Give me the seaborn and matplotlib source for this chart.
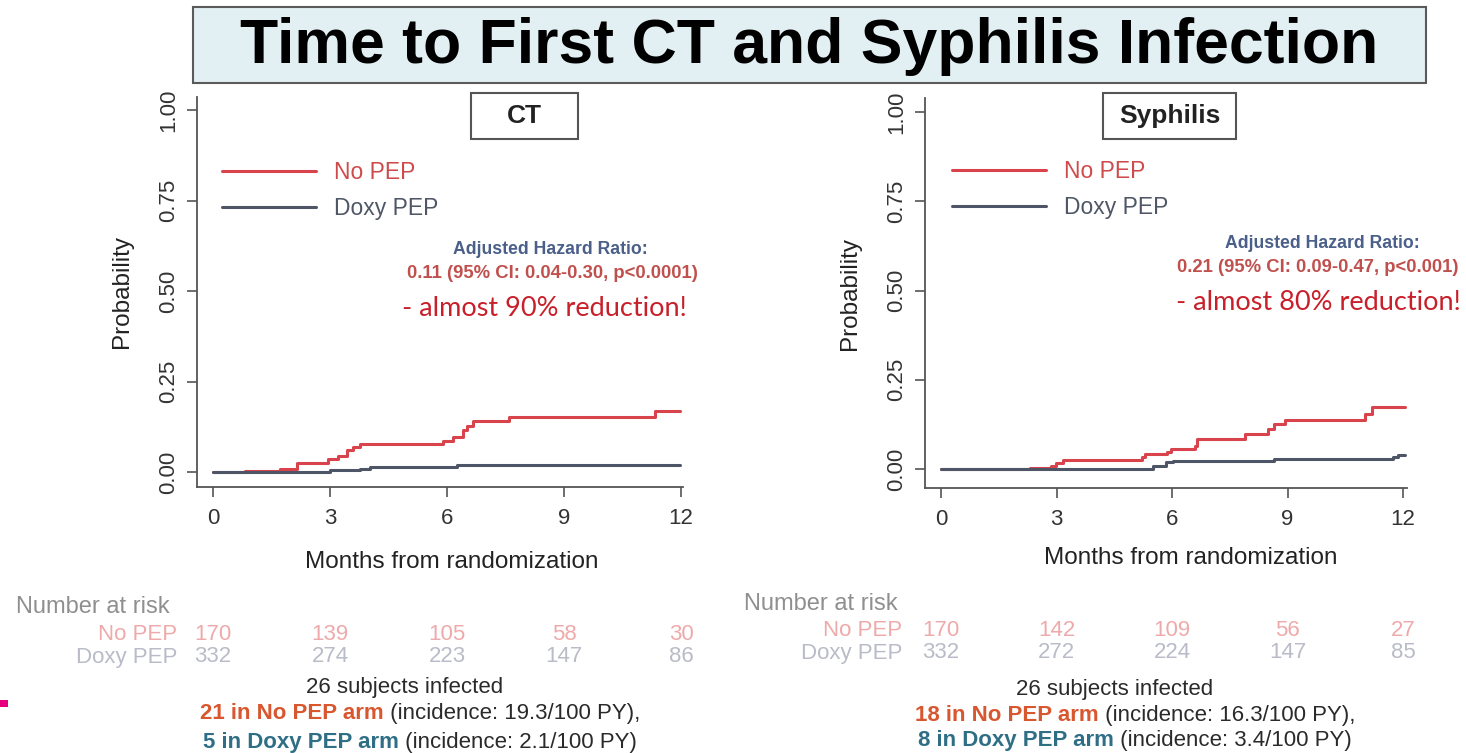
import matplotlib
matplotlib.use('Agg')
import matplotlib.pyplot as plt
from matplotlib.patches import Rectangle
from matplotlib import transforms
import seaborn as sns
import pandas as pd

W, H = 1466, 753

groups = ['No PEP', 'Doxy PEP']
month_ticks = [0, 3, 6, 9, 12]
prob_ticks = [0.0, 0.25, 0.50, 0.75, 1.00]

# cumulative incidence step curves
ct_nopep_t = [0, 0.82, 1.72, 2.15, 2.95, 3.2, 3.43, 3.6, 3.77, 5.9, 6.15, 6.4, 6.5, 6.67, 7.6, 11.33, 11.97]
ct_nopep_p = [0, 0.004, 0.009, 0.026, 0.035, 0.044, 0.061, 0.07, 0.078, 0.087, 0.096, 0.117, 0.126, 0.14, 0.151, 0.168, 0.168]
ct_doxy_t = [0, 3.0, 3.77, 4.03, 6.25, 11.97]
ct_doxy_p = [0, 0.006, 0.009, 0.015, 0.019, 0.019]

syph_nopep_t = [0, 2.3, 2.86, 2.98, 3.16, 5.23, 5.3, 5.87, 5.96, 6.6, 6.65, 7.9, 8.5, 8.65, 8.92, 11.0, 11.2, 12.05]
syph_nopep_p = [0, 0.003, 0.009, 0.016, 0.025, 0.035, 0.042, 0.049, 0.056, 0.065, 0.085, 0.098, 0.112, 0.126, 0.137, 0.154, 0.175, 0.175]
syph_doxy_t = [0, 5.5, 5.85, 6.03, 8.65, 11.73, 11.86, 12.05]
syph_doxy_p = [0, 0.009, 0.019, 0.023, 0.028, 0.033, 0.040, 0.040]

# number at risk
ct_risk_nopep = [170, 139, 105, 58, 30]
ct_risk_doxy = [332, 274, 223, 147, 86]
syph_risk_nopep = [170, 142, 109, 56, 27]
syph_risk_doxy = [332, 272, 224, 147, 85]

ct_hr = '0.11 (95% CI: 0.04-0.30, p<0.0001)'
syph_hr = '0.21 (95% CI: 0.09-0.47, p<0.001)'
ct_reduction = '- almost 90% reduction!'
syph_reduction = '- almost 80% reduction!'
ct_infected = ('21 in No PEP arm', ' (incidence: 19.3/100 PY),', '5 in Doxy PEP arm', ' (incidence: 2.1/100 PY)')
syph_infected = ('18 in No PEP arm', ' (incidence: 16.3/100 PY),', '8 in Doxy PEP arm', ' (incidence: 3.4/100 PY)')

palette = {'No PEP': '#d8434c', 'Doxy PEP': '#4d5566'}

sns.set_style('ticks')
plt.rcParams['font.family'] = ['Liberation Sans', 'DejaVu Sans']


def fx(x):
    return x / W


def fy(y):
    return 1 - y / H


def curve_frame(t_a, p_a, t_b, p_b):
    a = pd.DataFrame({'month': t_a, 'prob': p_a, 'group': 'No PEP'})
    b = pd.DataFrame({'month': t_b, 'prob': p_b, 'group': 'Doxy PEP'})
    return pd.concat([a, b], ignore_index=True)


fig = plt.figure(figsize=(W / 100, H / 100), dpi=100)
fig.patch.set_facecolor('white')
renderer = fig.canvas.get_renderer()


def two_tone(cx, y, bold_txt, bold_col, rest_txt, size=16):
    t1 = fig.text(0, fy(y), bold_txt, fontsize=size, fontweight='bold', color=bold_col,
                  ha='left', va='center_baseline')
    t2 = fig.text(0, fy(y), rest_txt, fontsize=size, color='#2a2a2a',
                  ha='left', va='center_baseline')
    w1 = t1.get_window_extent(renderer).width
    w2 = t2.get_window_extent(renderer).width
    x0 = cx - (w1 + w2) / 2
    t1.set_x(fx(x0))
    t2.set_x(fx(x0 + w1))


def draw_panel(box, xlim, ylim, df, legend_anchor, panel):
    left, top, right, bottom = box
    ax = fig.add_axes([fx(left), fy(bottom), (right - left) / W, (bottom - top) / H])
    sns.lineplot(data=df, x='month', y='prob', hue='group', hue_order=groups,
                 palette=palette, estimator=None, sort=False, drawstyle='steps-post',
                 linewidth=2.2, ax=ax)
    ax.set_xlim(*xlim)
    ax.set_ylim(*ylim)
    ax.set_xticks(month_ticks)
    ax.set_yticks(prob_ticks)
    ax.set_yticklabels([f'{v:.2f}' for v in prob_ticks], rotation=90, va='center')
    for s in ['top', 'right']:
        ax.spines[s].set_visible(False)
    for s in ['left', 'bottom']:
        ax.spines[s].set_color('#555555')
        ax.spines[s].set_linewidth(1.3)
    ax.tick_params(direction='out', length=7, width=1.2, color='#555555',
                   labelsize=16, labelcolor='#333333')
    ax.tick_params(axis='y', pad=6)
    ax.tick_params(axis='x', pad=8)
    ax.set_xlabel('Months from randomization', fontsize=17.5, color='#222222', va='center')
    ax.set_ylabel('Probability', fontsize=17.5, color='#222222', va='center')
    ax.xaxis.set_label_coords(panel['xlab'][0], panel['xlab'][1])
    ax.yaxis.set_label_coords(panel['ylab'], 0.5)
    h, l = ax.get_legend_handles_labels()
    leg = ax.legend(h, l, loc='upper left', bbox_to_anchor=legend_anchor, frameon=False,
                    fontsize=16.5, handlelength=4.1, handletextpad=0.8, labelspacing=0.58,
                    borderaxespad=0, borderpad=0)
    for txt, g in zip(leg.get_texts(), l):
        txt.set_color('#cf4b4b' if g == 'No PEP' else '#4f5666')
    return ax


ct_df = curve_frame(ct_nopep_t, ct_nopep_p, ct_doxy_t, ct_doxy_p)
syph_df = curve_frame(syph_nopep_t, syph_nopep_p, syph_doxy_t, syph_doxy_p)

ax1 = draw_panel((197, 97, 683, 487), (-0.41, 12.05), (-0.0414, 1.036), ct_df, (0.051, 0.836),
                 {'xlab': (0.525, -0.192), 'ylab': -0.154})
ax2 = draw_panel((925, 98, 1407, 488), (-0.416, 12.1), (-0.053, 1.039), syph_df, (0.056, 0.841),
                 {'xlab': (0.552, -0.18), 'ylab': -0.156})

# title banner
fig.patches.append(Rectangle((fx(193), fy(83)), (1426 - 193) / W, (83 - 7) / H,
                             transform=fig.transFigure, facecolor='#e2eff3',
                             edgecolor='#5a5a5a', linewidth=1.5, zorder=2))
fig.text(fx(809), fy(46), 'Time to First CT and Syphilis Infection', fontsize=45,
         fontweight='bold', color='black', ha='center', va='center', zorder=3)

# panel title boxes
for (l, t, r, b), name in [((471, 93, 578, 139), 'CT'), ((1103, 93, 1236, 139), 'Syphilis')]:
    fig.patches.append(Rectangle((fx(l), fy(b)), (r - l) / W, (b - t) / H,
                                 transform=fig.transFigure, facecolor='white',
                                 edgecolor='#555555', linewidth=1.5, zorder=2))
    fig.text(fx((l + r) / 2), fy((t + b) / 2), name, fontsize=19, fontweight='bold',
             color='#222222', ha='center', va='center', zorder=3)

# hazard ratio annotations
for cx, y0, hr, hr_cx, red_cx, red in [(550, 250, ct_hr, 552, 544, ct_reduction),
                                       (1322, 244, syph_hr, 1318, 1318, syph_reduction)]:
    fig.text(fx(cx), fy(y0), 'Adjusted Hazard Ratio:', fontsize=12.7, fontweight='bold',
             color='#4a5f8a', ha='center', va='center')
    fig.text(fx(hr_cx), fy(y0 + 24), hr, fontsize=13.3,
             fontweight='bold', color='#c0504d', ha='center', va='center')
    fig.text(fx(red_cx), fy(y0 + 58), red, fontsize=19.5, color='#c8202a',
             family=['Lato', 'DejaVu Sans'], ha='center', va='center')

# number at risk tables
for ax, x_left, x_lab, ys, r_a, r_b in [(ax1, 16, 177, (607, 634, 657), ct_risk_nopep, ct_risk_doxy),
                                        (ax2, 744, 902, (604, 630, 653), syph_risk_nopep, syph_risk_doxy)]:
    trans = transforms.blended_transform_factory(ax.transData, fig.transFigure)
    fig.text(fx(x_left), fy(ys[0]), 'Number at risk', fontsize=17, color='#8f8f8f',
             ha='left', va='center')
    fig.text(fx(x_lab), fy(ys[1]), 'No PEP', fontsize=16, color='#eeaaaa', ha='right', va='center')
    fig.text(fx(x_lab), fy(ys[2]), 'Doxy PEP', fontsize=16, color='#b9bcc8', ha='right', va='center')
    for m, n_a, n_b in zip(month_ticks, r_a, r_b):
        ax.text(m, fy(ys[1]), str(n_a), transform=trans, fontsize=16, color='#eeaaaa',
                ha='center', va='center', clip_on=False)
        ax.text(m, fy(ys[2]), str(n_b), transform=trans, fontsize=16, color='#b9bcc8',
                ha='center', va='center', clip_on=False)

# infection summaries
for cx_head, cx, ys, parts in [(405, 420, (685, 711, 740), ct_infected),
                               (1115, 1135, (687, 713, 738), syph_infected)]:
    fig.text(fx(cx_head), fy(ys[0]), '26 subjects infected', fontsize=16, color='#2a2a2a',
             ha='center', va='center_baseline')
    two_tone(cx, ys[1], parts[0], '#d8572f', parts[1])
    two_tone(cx, ys[2], parts[2], '#2f6f86', parts[3])

# small magenta slide marker on the left edge
fig.patches.append(Rectangle((fx(0), fy(707)), 8 / W, 7 / H, transform=fig.transFigure,
                             facecolor='#e6007e', edgecolor='none'))

fig.savefig('out.png', dpi=100)
